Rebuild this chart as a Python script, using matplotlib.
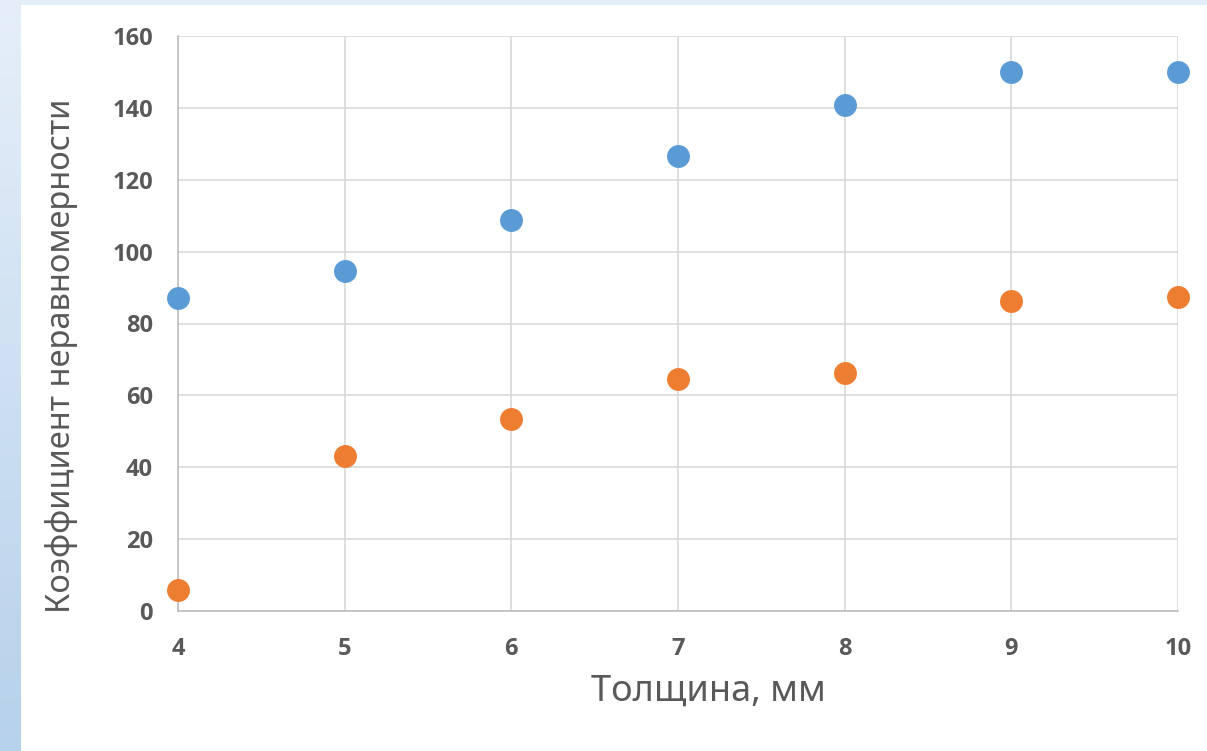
import numpy as np
import matplotlib
matplotlib.use('Agg')
import matplotlib.pyplot as plt
from matplotlib.patches import Rectangle

# Data
thickness = [4, 5, 6, 7, 8, 9, 10]
series_blue = [87, 94.6, 108.8, 126.6, 140.8, 150, 150]
series_orange = [5.8, 43.1, 53.3, 64.6, 66.1, 86.4, 87.3]
y_ticks = [0, 20, 40, 60, 80, 100, 120, 140, 160]

W, H = 1207, 751
fig = plt.figure(figsize=(W / 100, H / 100), dpi=100)
fig.patch.set_facecolor('#E4EEF8')

# white slide area
fig.patches.append(Rectangle((21 / W, 0), 1 - 21 / W, 1 - 5 / H,
                             transform=fig.transFigure, facecolor='white',
                             edgecolor='none', zorder=-10))

# left blue gradient strip
ax_bg = fig.add_axes([0, 0, 21 / W, 1], zorder=-5)
grad = np.linspace(0, 1, 256).reshape(-1, 1)
cmap = matplotlib.colors.LinearSegmentedColormap.from_list('g', ['#E6EFF9', '#B6D1EB'])
ax_bg.imshow(grad, aspect='auto', cmap=cmap, extent=[0, 1, 0, 1], origin='upper')
ax_bg.axis('off')

ax = fig.add_axes([178 / W, 1 - 611 / H, 1000 / W, 575 / H], zorder=1)
ax.set_facecolor('none')

ax.scatter(thickness, series_blue, s=272, color='#5B9BD5', zorder=3, clip_on=False, linewidths=0)
ax.scatter(thickness, series_orange, s=272, color='#ED7D31', zorder=3, clip_on=False, linewidths=0)

ax.set_xlim(4, 10)
ax.set_ylim(0, 160)
ax.set_xticks(thickness)
ax.set_yticks(y_ticks)
ax.grid(True, color='#D9D9D9', linewidth=1.2)
ax.set_axisbelow(True)

for side in ['top', 'right']:
    ax.spines[side].set_visible(False)
for side in ['left', 'bottom']:
    ax.spines[side].set_color('#BFBFBF')
    ax.spines[side].set_linewidth(1.2)

ax.tick_params(length=0, labelsize=17, labelcolor='#595959')
ax.tick_params(axis='y', pad=18)
ax.tick_params(axis='x', pad=19)
for lab in ax.get_xticklabels() + ax.get_yticklabels():
    lab.set_fontfamily('Open Sans')
    lab.set_fontweight('bold')

# axis titles placed where the reference has them
fig.text(708 / W, 1 - 692 / H, 'Толщина, мм', fontsize=26, color='#595959',
         family='Noto Sans', ha='center', va='center')
fig.text(62 / W, 1 - 356 / H, 'Коэффициент неравномерности', fontsize=23.5, color='#595959',
         family='Noto Sans', ha='center', va='center', rotation=90)

fig.savefig('out.png', dpi=100)
